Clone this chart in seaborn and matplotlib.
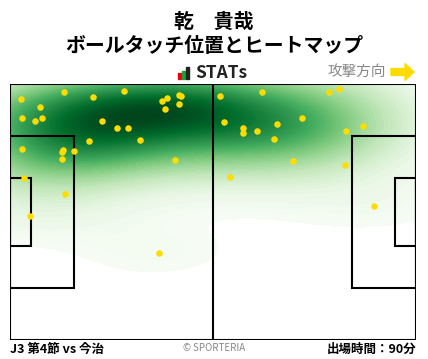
import numpy as np
import pandas as pd
import matplotlib
matplotlib.use("Agg")
import matplotlib.pyplot as plt
import seaborn as sns
from matplotlib.patches import Rectangle, FancyArrow

# ── Data (pitch metres, 105 x 68, y measured from bottom) ─────────────────────
touch_x = [2.9, 14.0, 21.5, 29.6, 7.8, 3.2, 6.5, 8.4, 23.9, 27.7, 30.6, 39.4,
           40.7, 43.8, 44.3, 43.8, 40.2, 20.5, 33.7, 3.2, 13.8, 13.5, 16.5,
           13.5, 42.7, 3.7, 14.3, 5.2, 38.6,
           54.4, 65.2, 82.6, 85.2, 55.4, 60.3, 60.3, 64.0, 69.1, 75.6, 68.3,
           87.0, 91.4, 73.3, 86.7, 57.0, 94.2]
touch_y = [63.9, 65.8, 64.5, 66.1, 61.8, 58.9, 58.1, 58.9, 58.1, 56.2, 56.2, 63.4,
           64.2, 65.1, 64.7, 62.6, 61.3, 52.8, 53.0, 50.7, 50.4, 49.9, 50.1,
           48.0, 47.7, 43.0, 38.7, 32.9, 23.0,
           64.7, 65.8, 65.8, 66.6, 57.8, 56.2, 55.1, 55.4, 57.3, 58.9, 53.5,
           55.4, 56.8, 47.5, 46.4, 43.2, 35.5]

player = "乾　貴哉"
subtitle = "ボールタッチ位置とヒートマップ"
match_label = "J3 第4節 vs 今治"
minutes_label = "出場時間：90分"

PITCH_L, PITCH_W = 105, 68
JP = ["Noto Sans CJK JP", "DejaVu Sans"]

df = pd.DataFrame({"x": touch_x, "y": touch_y})

fig = plt.figure(figsize=(4.28, 3.59), dpi=100)
ax = fig.add_axes([10 / 428, 1 - 340 / 359, 406 / 428, 256 / 359])

sns.kdeplot(data=df, x="x", y="y", fill=True, cmap="Greens", levels=80,
            thresh=0.02, bw_adjust=1.25, clip=((0, PITCH_L), (0, PITCH_W)),
            gridsize=150, ax=ax, zorder=1)
sns.scatterplot(data=df, x="x", y="y", color="#ffdc00", s=22, linewidth=0,
                ax=ax, zorder=4)

# pitch lines
lw = 1.5
line_kw = dict(fill=False, edgecolor="black", linewidth=lw, zorder=3)
ax.add_patch(Rectangle((0, 0), PITCH_L, PITCH_W, **line_kw))
ax.plot([PITCH_L / 2, PITCH_L / 2], [0, PITCH_W], color="black", lw=lw, zorder=3)
pb_w, pb_d = 40.3, 16.5
ga_w, ga_d = 18.3, 5.5
for x0, d in [(0, pb_d), (PITCH_L - pb_d, pb_d)]:
    ax.add_patch(Rectangle((x0, (PITCH_W - pb_w) / 2), d, pb_w, **line_kw))
for x0, d in [(0, ga_d), (PITCH_L - ga_d, ga_d)]:
    ax.add_patch(Rectangle((x0, (PITCH_W - ga_w) / 2), d, ga_w, **line_kw))

ax.set_xlim(0, PITCH_L)
ax.set_ylim(0, PITCH_W)
ax.set_xlabel("")
ax.set_ylabel("")
ax.set_xticks([])
ax.set_yticks([])
for s in ax.spines.values():
    s.set_visible(False)

# ── header ────────────────────────────────────────────────────────────────────
fig.text(0.5, 1 - 21 / 359, player, ha="center", va="center", fontsize=14.3,
         fontweight="bold", family=JP)
fig.text(0.5, 1 - 46 / 359, subtitle, ha="center", va="center", fontsize=14.3,
         fontweight="bold", family=JP)

# STATs logo
for i, (c, h) in enumerate([("#e60012", 6), ("#1aa037", 8), ("#222222", 12)]):
    fig.patches.append(Rectangle(((178 + i * 4) / 428, 1 - 79 / 359), 3 / 428,
                                 h / 359, color=c, transform=fig.transFigure))
fig.text(195 / 428, 1 - 73 / 359, "STATs", ha="left", va="center",
         fontsize=12.5, fontweight="bold", family=JP, color="#222222")

fig.text(386 / 428, 1 - 72 / 359, "攻撃方向", ha="right", va="center",
         fontsize=10.5, family=JP, color="#888888")
fig.patches.append(FancyArrow(391 / 428, 1 - 72 / 359, 14 / 428, 0,
                              width=7 / 359, head_width=17 / 359,
                              head_length=9 / 428, length_includes_head=False,
                              color="#ffdc00", transform=fig.transFigure))

# ── footer ────────────────────────────────────────────────────────────────────
fig.text(10 / 428, 1 - 349 / 359, match_label, ha="left", va="center",
         fontsize=9, fontweight="bold", family=JP)
fig.text(0.5, 1 - 348 / 359, "© SPORTERIA", ha="center", va="center",
         fontsize=7, family=JP, color="#888888")
fig.text(416 / 428, 1 - 349 / 359, minutes_label, ha="right", va="center",
         fontsize=9, fontweight="bold", family=JP)

fig.savefig("out.png", dpi=100)
